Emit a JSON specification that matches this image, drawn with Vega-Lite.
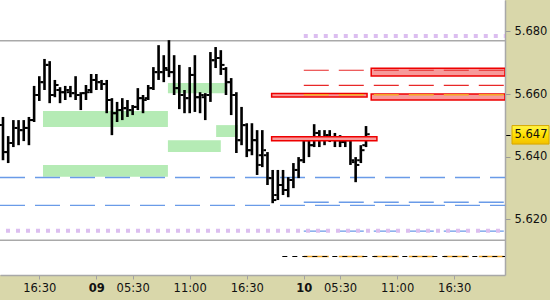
{
 "$schema": "https://vega.github.io/schema/vega-lite/v6.json",
 "width": 505, "height": 275,
 "autosize": {"type": "none"},
 "padding": {"left": 0, "top": 0, "right": 45, "bottom": 25},
 "background": "#d9d7aa",
 "config": {
  "view": {"fill": "white", "stroke": null},
  "axis": {"labelFont": "DejaVu Sans", "labelFontSize": 11.5, "labelColor": "#111", "domainColor": "#a8a8a8", "domainWidth": 1.5, "tickColor": "#a0a0a0", "grid": false, "labelOverlap": false, "labelFlush": false}
 },
 "datasets": {
  "bars": [
   {"i":0,"o":5.6501,"h":5.6527,"l":5.6389,"c":5.6415},
   {"i":1,"o":5.6415,"h":5.6466,"l":5.6380,"c":5.6444},
   {"i":2,"o":5.6444,"h":5.6517,"l":5.6431,"c":5.6492},
   {"i":3,"o":5.6492,"h":5.6517,"l":5.6437,"c":5.6485},
   {"i":4,"o":5.6485,"h":5.6517,"l":5.6450,"c":5.6492},
   {"i":5,"o":5.6492,"h":5.6527,"l":5.6437,"c":5.6517},
   {"i":6,"o":5.6517,"h":5.6626,"l":5.6511,"c":5.6597},
   {"i":7,"o":5.6597,"h":5.6657,"l":5.6578,"c":5.6638},
   {"i":8,"o":5.6638,"h":5.6712,"l":5.6613,"c":5.6693},
   {"i":9,"o":5.6693,"h":5.6705,"l":5.6571,"c":5.6597},
   {"i":10,"o":5.6597,"h":5.6645,"l":5.6590,"c":5.6629},
   {"i":11,"o":5.6613,"h":5.6622,"l":5.6571,"c":5.6606},
   {"i":12,"o":5.6606,"h":5.6626,"l":5.6581,"c":5.6613},
   {"i":13,"o":5.6606,"h":5.6626,"l":5.6590,"c":5.6603},
   {"i":14,"o":5.6603,"h":5.6657,"l":5.6581,"c":5.6597},
   {"i":15,"o":5.6597,"h":5.6606,"l":5.6549,"c":5.6603},
   {"i":16,"o":5.6603,"h":5.6629,"l":5.6581,"c":5.6606},
   {"i":17,"o":5.6613,"h":5.6664,"l":5.6603,"c":5.6645},
   {"i":18,"o":5.6645,"h":5.6664,"l":5.6613,"c":5.6638},
   {"i":19,"o":5.6638,"h":5.6645,"l":5.6613,"c":5.6632},
   {"i":20,"o":5.6632,"h":5.6645,"l":5.6539,"c":5.6581},
   {"i":21,"o":5.6581,"h":5.6587,"l":5.6469,"c":5.6539},
   {"i":22,"o":5.6539,"h":5.6575,"l":5.6511,"c":5.6549},
   {"i":23,"o":5.6549,"h":5.6587,"l":5.6517,"c":5.6555},
   {"i":24,"o":5.6555,"h":5.6581,"l":5.6527,"c":5.6549},
   {"i":25,"o":5.6549,"h":5.6565,"l":5.6533,"c":5.6559},
   {"i":26,"o":5.6559,"h":5.6619,"l":5.6549,"c":5.6587},
   {"i":27,"o":5.6587,"h":5.6597,"l":5.6539,"c":5.6581},
   {"i":28,"o":5.6587,"h":5.6629,"l":5.6581,"c":5.6619},
   {"i":29,"o":5.6619,"h":5.6686,"l":5.6613,"c":5.6670},
   {"i":30,"o":5.6670,"h":5.6756,"l":5.6645,"c":5.6670},
   {"i":31,"o":5.6670,"h":5.6724,"l":5.6638,"c":5.6683},
   {"i":32,"o":5.6677,"h":5.6772,"l":5.6654,"c":5.6670},
   {"i":33,"o":5.6670,"h":5.6724,"l":5.6597,"c":5.6619},
   {"i":34,"o":5.6619,"h":5.6693,"l":5.6552,"c":5.6597},
   {"i":35,"o":5.6597,"h":5.6613,"l":5.6539,"c":5.6587},
   {"i":36,"o":5.6587,"h":5.6686,"l":5.6539,"c":5.6661},
   {"i":37,"o":5.6661,"h":5.6724,"l":5.6543,"c":5.6590},
   {"i":38,"o":5.6590,"h":5.6606,"l":5.6539,"c":5.6597},
   {"i":39,"o":5.6590,"h":5.6603,"l":5.6517,"c":5.6597},
   {"i":40,"o":5.6597,"h":5.6734,"l":5.6575,"c":5.6708},
   {"i":41,"o":5.6708,"h":5.6750,"l":5.6683,"c":5.6715},
   {"i":42,"o":5.6715,"h":5.6740,"l":5.6661,"c":5.6693},
   {"i":43,"o":5.6680,"h":5.6686,"l":5.6597,"c":5.6638},
   {"i":44,"o":5.6638,"h":5.6651,"l":5.6533,"c":5.6597},
   {"i":45,"o":5.6597,"h":5.6606,"l":5.6412,"c":5.6453},
   {"i":46,"o":5.6453,"h":5.6559,"l":5.6437,"c":5.6501},
   {"i":47,"o":5.6501,"h":5.6507,"l":5.6399,"c":5.6421},
   {"i":48,"o":5.6421,"h":5.6507,"l":5.6405,"c":5.6453},
   {"i":49,"o":5.6453,"h":5.6485,"l":5.6342,"c":5.6374},
   {"i":50,"o":5.6405,"h":5.6485,"l":5.6367,"c":5.6421},
   {"i":51,"o":5.6405,"h":5.6415,"l":5.6310,"c":5.6332},
   {"i":52,"o":5.6332,"h":5.6358,"l":5.6252,"c":5.6262},
   {"i":53,"o":5.6278,"h":5.6358,"l":5.6262,"c":5.6310},
   {"i":54,"o":5.6310,"h":5.6358,"l":5.6278,"c":5.6294},
   {"i":55,"o":5.6294,"h":5.6335,"l":5.6271,"c":5.6326},
   {"i":56,"o":5.6326,"h":5.6380,"l":5.6300,"c":5.6358},
   {"i":57,"o":5.6358,"h":5.6399,"l":5.6332,"c":5.6389},
   {"i":58,"o":5.6389,"h":5.6466,"l":5.6380,"c":5.6453},
   {"i":59,"o":5.6453,"h":5.6466,"l":5.6399,"c":5.6437},
   {"i":60,"o":5.6437,"h":5.6504,"l":5.6431,"c":5.6476},
   {"i":61,"o":5.6476,"h":5.6485,"l":5.6431,"c":5.6463},
   {"i":62,"o":5.6463,"h":5.6485,"l":5.6437,"c":5.6469},
   {"i":63,"o":5.6469,"h":5.6485,"l":5.6447,"c":5.6460},
   {"i":64,"o":5.6460,"h":5.6476,"l":5.6431,"c":5.6453},
   {"i":65,"o":5.6453,"h":5.6469,"l":5.6431,"c":5.6447},
   {"i":66,"o":5.6447,"h":5.6466,"l":5.6431,"c":5.6453},
   {"i":67,"o":5.6453,"h":5.6456,"l":5.6374,"c":5.6389},
   {"i":68,"o":5.6383,"h":5.6399,"l":5.6319,"c":5.6374},
   {"i":69,"o":5.6389,"h":5.6437,"l":5.6380,"c":5.6421},
   {"i":70,"o":5.6437,"h":5.6498,"l":5.6431,"c":5.6472}
  ],
  "zones": [
   {"k":"g","x1":7.71,"x2":31.8,"p1":5.6546,"p2":5.6495},
   {"k":"g","x1":7.71,"x2":31.8,"p1":5.6374,"p2":5.6336},
   {"k":"g","x1":31.8,"x2":42.8,"p1":5.6635,"p2":5.6603},
   {"k":"g","x1":31.8,"x2":42.0,"p1":5.6453,"p2":5.6415},
   {"k":"g","x1":41.1,"x2":45.3,"p1":5.6501,"p2":5.6463},
   {"k":"r","x1":71.0,"x2":96.8,"p1":5.6682,"p2":5.6658},
   {"k":"r","x1":51.8,"x2":70.2,"p1":5.6602,"p2":5.6591},
   {"k":"r","x1":71.0,"x2":96.8,"p1":5.6600,"p2":5.6581},
   {"k":"r","x1":51.8,"x2":72.1,"p1":5.6464,"p2":5.6451}
  ],
  "lines": [
   {"k":"gray","p":5.6770,"s":-0.578,"e":96.8},
   {"k":"gray","p":5.6134,"s":-0.578,"e":96.8},
   {"k":"violetF","p":5.6164,"s":-0.578,"e":96.8},
   {"k":"violetP","p":5.6785,"s":58,"e":96.8},
   {"k":"blueF","p":5.6334,"s":-0.578,"e":96.8},
   {"k":"blueF","p":5.6245,"s":-0.578,"e":96.8},
   {"k":"blueP","p":5.6255,"s":58,"e":96.8},
   {"k":"blueP","p":5.6163,"s":58,"e":96.8},
   {"k":"red","p":5.6676,"s":58,"e":96.8},
   {"k":"red","p":5.6628,"s":58,"e":96.8},
   {"k":"orange","p":5.6598,"s":58,"e":96.8},
   {"k":"orange","p":5.6082,"s":58,"e":96.8},
   {"k":"black","p":5.6082,"s":53.86,"e":96.8}
  ],
  "last": [{"p":5.647,"t":"5.647"}]
 },
 "layer": [
  {
   "data": {"name": "zones"},
   "transform": [{"filter": "datum.k=='g'"}],
   "mark": {"type": "rect", "fill": "#b5ebb5", "clip": true},
   "encoding": {
    "x": {"field": "x1", "type": "quantitative", "title": null,
     "scale": {"domain": [-0.578, 96.8], "nice": false, "zero": false},
     "axis": {"orient": "bottom", "values": [7, 18, 25, 36, 47, 58, 65, 76, 87],
      "labelExpr": "['16:30','09','05:30','11:00','16:30','10','05:30','11:00','16:30'][indexof([7,18,25,36,47,58,65,76,87], datum.value)]",
      "tickSize": 4, "labelPadding": 3,
      "labelFontWeight": {"condition": {"test": "datum.value==18 || datum.value==58", "value": "bold"}, "value": "normal"}}},
    "x2": {"field": "x2"},
    "y": {"field": "p1", "type": "quantitative", "title": null,
     "scale": {"domain": [5.6023, 5.69], "nice": false, "zero": false},
     "axis": {"orient": "right", "values": [5.62, 5.64, 5.647, 5.66, 5.68],
      "labelExpr": "datum.value == 5.647 ? '' : format(datum.value, '.3f')",
      "tickSize": 5, "labelPadding": 4,
      "tickColor": {"condition": {"test": "datum.value==5.647", "value": "#000"}, "value": "#999"}}},
    "y2": {"field": "p2"}
   }
  },
  {
   "data": {"name": "lines"},
   "transform": [{"filter": "datum.k=='gray'"}],
   "mark": {"type": "rule", "color": "#a9a9a9", "strokeWidth": 1.5},
   "encoding": {"y": {"field": "p", "type": "quantitative", "title": null}}
  },
  {
   "data": {"name": "lines"},
   "transform": [{"filter": "datum.k=='blueF'"}],
   "mark": {"type": "rule", "color": "#6a9be8", "strokeWidth": 1.4, "strokeDash": [25, 10], "strokeDashOffset": 10},
   "encoding": {"y": {"field": "p", "type": "quantitative", "title": null}}
  },
  {
   "data": {"name": "lines"},
   "transform": [{"filter": "datum.k=='blueP'"}],
   "mark": {"type": "rule", "color": "#6a9be8", "strokeWidth": 1.4, "strokeDash": [25, 10], "clip": true},
   "encoding": {"x": {"field": "s", "type": "quantitative", "title": null}, "x2": {"field": "e"}, "y": {"field": "p", "type": "quantitative", "title": null}}
  },
  {
   "data": {"name": "lines"},
   "transform": [{"filter": "datum.k=='violetF'"}],
   "mark": {"type": "rule", "color": "#dcbef0", "strokeWidth": 4, "strokeDash": [4, 6], "strokeDashOffset": 5},
   "encoding": {"y": {"field": "p", "type": "quantitative", "title": null}}
  },
  {
   "data": {"name": "lines"},
   "transform": [{"filter": "datum.k=='violetP'"}],
   "mark": {"type": "rule", "color": "#dcbef0", "strokeWidth": 4, "strokeDash": [4, 6], "clip": true},
   "encoding": {"x": {"field": "s", "type": "quantitative", "title": null}, "x2": {"field": "e"}, "y": {"field": "p", "type": "quantitative", "title": null}}
  },
  {
   "data": {"name": "bars"},
   "mark": {"type": "rule", "color": "#000", "strokeWidth": 2.6, "clip": true},
   "encoding": {"x": {"field": "i", "type": "quantitative", "title": null}, "y": {"field": "l", "type": "quantitative", "title": null}, "y2": {"field": "h"}}
  },
  {
   "data": {"name": "bars"},
   "mark": {"type": "tick", "orient": "horizontal", "color": "#000", "opacity": 1, "size": 2.6, "thickness": 2, "xOffset": -2.4, "clip": true},
   "encoding": {"x": {"field": "i", "type": "quantitative", "title": null}, "y": {"field": "o", "type": "quantitative", "title": null}}
  },
  {
   "data": {"name": "bars"},
   "mark": {"type": "tick", "orient": "horizontal", "color": "#000", "opacity": 1, "size": 2.6, "thickness": 2, "xOffset": 2.4, "clip": true},
   "encoding": {"x": {"field": "i", "type": "quantitative", "title": null}, "y": {"field": "c", "type": "quantitative", "title": null}}
  },
  {
   "data": {"name": "zones"},
   "transform": [{"filter": "datum.k=='r'"}],
   "mark": {"type": "rect", "fill": "#f79a9a", "stroke": "#ee0000", "strokeWidth": 1.5, "clip": true},
   "encoding": {"x": {"field": "x1", "type": "quantitative", "title": null}, "x2": {"field": "x2"}, "y": {"field": "p1", "type": "quantitative", "title": null}, "y2": {"field": "p2"}}
  },
  {
   "data": {"name": "lines"},
   "transform": [{"filter": "datum.k=='red'"}],
   "mark": {"type": "rule", "color": "#e82828", "strokeWidth": 1.2, "strokeDash": [25, 10], "clip": true},
   "encoding": {"x": {"field": "s", "type": "quantitative", "title": null}, "x2": {"field": "e"}, "y": {"field": "p", "type": "quantitative", "title": null}}
  },
  {
   "data": {"name": "lines"},
   "transform": [{"filter": "datum.k=='orange'"}],
   "mark": {"type": "rule", "color": "#f5a623", "strokeWidth": 1.5, "strokeDash": [25, 10], "clip": true},
   "encoding": {"x": {"field": "s", "type": "quantitative", "title": null}, "x2": {"field": "e"}, "y": {"field": "p", "type": "quantitative", "title": null}}
  },
  {
   "data": {"name": "lines"},
   "transform": [{"filter": "datum.k=='black'"}],
   "mark": {"type": "rule", "color": "#000", "strokeWidth": 1.2, "strokeDash": [5, 5], "clip": true},
   "encoding": {"x": {"field": "s", "type": "quantitative", "title": null}, "x2": {"field": "e"}, "y": {"field": "p", "type": "quantitative", "title": null}}
  },
  {
   "data": {"name": "last"},
   "mark": {"type": "point", "shape": "M-1,-0.5L1,-0.5L1,0.5L-1,0.5Z", "size": 1369, "filled": true, "opacity": 1,
    "fill": {"gradient": "linear", "x1": 0, "y1": 0, "x2": 0, "y2": 1, "stops": [{"offset": 0, "color": "#fff54a"}, {"offset": 0.5, "color": "#ffe000"}, {"offset": 1, "color": "#f2c000"}]},
    "stroke": "#d6a800", "strokeWidth": 1, "x": {"expr": "width + 25.5"}},
   "encoding": {"y": {"field": "p", "type": "quantitative", "title": null}}
  },
  {
   "data": {"name": "last"},
   "mark": {"type": "text", "font": "DejaVu Sans", "fontSize": 11.5, "color": "#111", "align": "center", "baseline": "middle", "x": {"expr": "width + 26"}},
   "encoding": {"y": {"field": "p", "type": "quantitative", "title": null}, "text": {"field": "t"}}
  }
 ]
}
